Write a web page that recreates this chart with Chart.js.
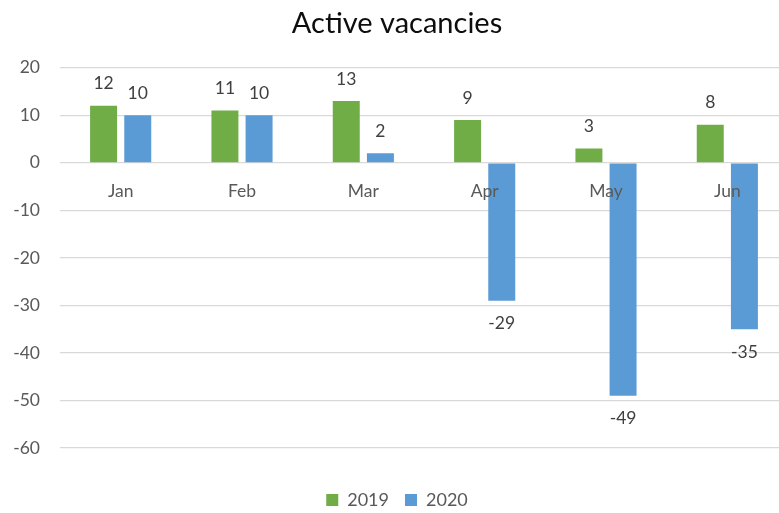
<!DOCTYPE html>
<html>
<head>
<meta charset="utf-8">
<script src="https://cdn.jsdelivr.net/npm/chart.js@4.4.1/dist/chart.umd.min.js"></script>
<style>
  html, body { margin: 0; padding: 0; background: #fff; overflow: hidden; }
  #wrap { width: 788px; height: 513px; position: relative; }
</style>
</head>
<body>
<div id="wrap"><canvas id="chart"></canvas></div>
<script>
// chart data
const months = ['Jan', 'Feb', 'Mar', 'Apr', 'May', 'Jun'];
const vac2019 = [12, 11, 13, 9, 3, 8];
const vac2020 = [10, 10, 2, -29, -49, -35];
const yTicks = [20, 10, 0, -10, -20, -30, -40, -50, -60];

const FONT = "Lato, 'Open Sans', sans-serif";

// value labels above positive bars, below negative ones
const valueLabels = {
  id: 'valueLabels',
  afterDatasetsDraw(chart) {
    const ctx = chart.ctx;
    ctx.save();
    ctx.font = `17.5px ${FONT}`;
    ctx.fillStyle = '#404040';
    ctx.textAlign = 'center';
    ctx.textBaseline = 'middle';
    chart.data.datasets.forEach((ds, i) => {
      chart.getDatasetMeta(i).data.forEach((bar, j) => {
        const v = ds.data[j];
        const y = v >= 0 ? bar.y - 22 : bar.y + 23;
        ctx.fillText(String(v), bar.x, y);
      });
    });
    ctx.restore();
  }
};

new Chart(document.getElementById('chart').getContext('2d'), {
  type: 'bar',
  data: {
    labels: months,
    datasets: [
      { label: '2019', data: vac2019, backgroundColor: '#70AD47', xAxisID: 'x' },
      { label: '2020', data: vac2020, backgroundColor: '#5B9BD5', xAxisID: 'x' }
    ]
  },
  options: {
    responsive: true,
    maintainAspectRatio: false,
    animation: false,
    events: [],
    categoryPercentage: 0.563,
    barPercentage: 0.79,
    layout: { padding: { left: 6, right: 0, top: 0, bottom: -6 } },
    plugins: {
      title: {
        display: true,
        text: 'Active vacancies',
        color: '#0d0d0d',
        font: { family: FONT, size: 29, weight: 'normal' },
        padding: { top: 6, bottom: 27 }
      },
      legend: {
        position: 'bottom',
        labels: {
          boxWidth: 12,
          boxHeight: 12,
          color: '#595959',
          font: { family: FONT, size: 18 },
          padding: 16
        }
      },
      tooltip: { enabled: false }
    },
    scales: {
      x: {
        position: { y: 0 },
        grid: { display: false, drawTicks: false },
        border: { display: false },
        ticks: {
          z: 1,
          color: '#595959',
          font: { family: FONT, size: 17.5 },
          padding: 18
        }
      },
      // empty strip that keeps the gap between plot and legend
      gap: {
        type: 'category',
        labels: months,
        position: 'bottom',
        grid: { display: false, drawTicks: false },
        border: { display: false },
        ticks: { display: false },
        afterFit: (scale) => { scale.height = 27; }
      },
      y: {
        min: -60,
        max: 20,
        afterBuildTicks: (scale) => { scale.ticks = yTicks.map(v => ({ value: v })); },
        afterFit: (scale) => { scale.width = 54; },
        grid: { color: '#d9d9d9', lineWidth: 1.3, drawTicks: false },
        border: { display: false },
        ticks: {
          color: '#595959',
          font: { family: FONT, size: 17.5 },
          padding: 20
        }
      }
    }
  },
  plugins: [valueLabels]
});
</script>
</body>
</html>
